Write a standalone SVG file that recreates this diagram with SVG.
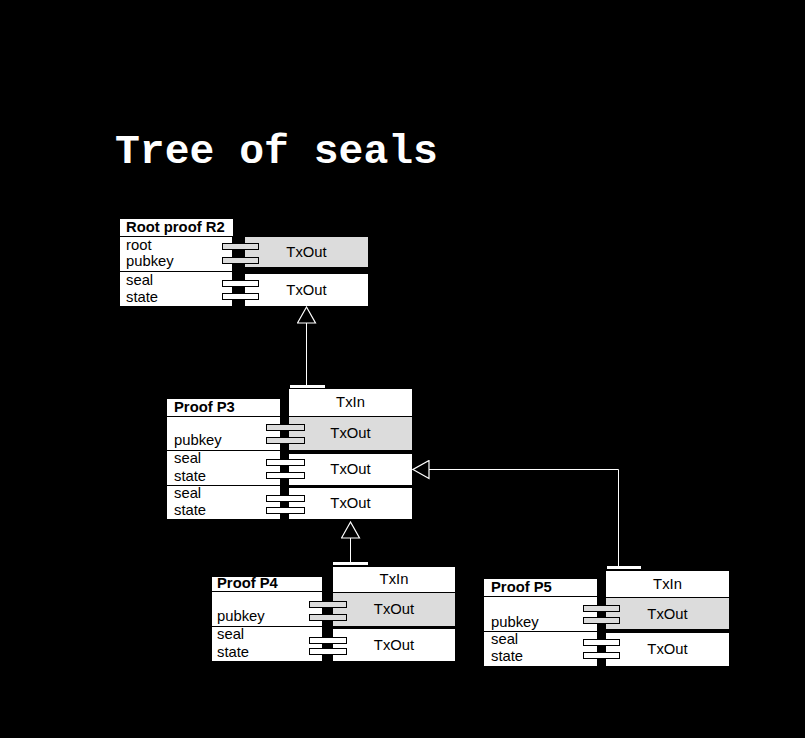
<svg xmlns="http://www.w3.org/2000/svg" width="805" height="738" viewBox="0 0 805 738">
<style>
.w{fill:#fff}
.g{fill:#dcdcdc}
.div{stroke:#000;stroke-width:1}
.pg{fill:#dcdcdc;stroke:#000;stroke-width:1}
.pw{fill:#fff;stroke:#000;stroke-width:1}
.t{font-family:"Liberation Sans",Arial,sans-serif;font-size:14.8px;fill:#000}
.b{font-weight:bold}
.c{text-anchor:middle}
.title{font-family:"Liberation Mono","DejaVu Sans Mono",monospace;font-weight:bold;font-size:41.4px;fill:#fff}
.conn{fill:none;stroke:#fff;stroke-width:1}
</style>
<defs>
<marker id="tri" markerUnits="userSpaceOnUse" viewBox="-1 -1 18 20" markerWidth="18" markerHeight="20" refX="16" refY="9" orient="auto">
<path d="M16,9 L0,0 L0,18 Z" fill="#000" stroke="#fff" stroke-width="1.2"/>
</marker>
</defs>
<rect x="0" y="0" width="805" height="738" fill="#000"/>
<text class="title" x="115" y="163">Tree of seals</text>

<g id="R2">
<rect class="w" x="120" y="219" width="113" height="17"/>
<text class="t b" x="126" y="232">Root proof R2</text>
<rect class="w" x="120" y="237" width="112" height="69"/>
<line class="div" x1="120" y1="271.5" x2="232" y2="271.5"/>
<text class="t" x="126" y="250">root</text>
<text class="t" x="126" y="266">pubkey</text>
<text class="t" x="126" y="285">seal</text>
<text class="t" x="126" y="302">state</text>
<rect class="g" x="245" y="237" width="123" height="30"/>
<rect class="w" x="245" y="274" width="123" height="32"/>
<text class="t c" x="306.5" y="257">TxOut</text>
<text class="t c" x="306.5" y="295">TxOut</text>
<rect class="pg" x="222.5" y="243.5" width="36" height="6"/>
<rect class="pg" x="222.5" y="257.5" width="36" height="6"/>
<rect class="pw" x="222.5" y="280.5" width="36" height="6"/>
<rect class="pw" x="222.5" y="293.5" width="36" height="6"/>
</g>

<g id="P3">
<rect class="w" x="167" y="399" width="113" height="17"/>
<text class="t b" x="174" y="412">Proof P3</text>
<rect class="w" x="167" y="417" width="113" height="102"/>
<line class="div" x1="167" y1="450.5" x2="280" y2="450.5"/>
<line class="div" x1="167" y1="485.5" x2="280" y2="485.5"/>
<text class="t" x="174" y="445">pubkey</text>
<text class="t" x="174" y="463">seal</text>
<text class="t" x="174" y="481">state</text>
<text class="t" x="174" y="498">seal</text>
<text class="t" x="174" y="515">state</text>
<rect class="w" x="290" y="385" width="35" height="3"/>
<rect class="w" x="289" y="389" width="123" height="27"/>
<rect class="g" x="289" y="417" width="123" height="33"/>
<rect class="w" x="289" y="454" width="123" height="31"/>
<rect class="w" x="289" y="488" width="123" height="31"/>
<text class="t c" x="350.5" y="407">TxIn</text>
<text class="t c" x="350.5" y="438">TxOut</text>
<text class="t c" x="350.5" y="474">TxOut</text>
<text class="t c" x="350.5" y="508">TxOut</text>
<rect class="pg" x="266.5" y="424.5" width="38" height="6"/>
<rect class="pg" x="266.5" y="437.5" width="38" height="6"/>
<rect class="pw" x="266.5" y="459.5" width="38" height="6"/>
<rect class="pw" x="266.5" y="472.5" width="38" height="6"/>
<rect class="pw" x="266.5" y="495.5" width="38" height="6"/>
<rect class="pw" x="266.5" y="507.5" width="38" height="6"/>
</g>

<g id="P4">
<rect class="w" x="212" y="577" width="110" height="14"/>
<text class="t b" x="217" y="588">Proof P4</text>
<rect class="w" x="212" y="592" width="110" height="69"/>
<line class="div" x1="212" y1="626.5" x2="322" y2="626.5"/>
<text class="t" x="217" y="621">pubkey</text>
<text class="t" x="217" y="639">seal</text>
<text class="t" x="217" y="657">state</text>
<rect class="w" x="333" y="562" width="35" height="3"/>
<rect class="w" x="333" y="567" width="122" height="25"/>
<rect class="g" x="333" y="593" width="122" height="33"/>
<rect class="w" x="333" y="629" width="122" height="32"/>
<text class="t c" x="394" y="584">TxIn</text>
<text class="t c" x="394" y="614">TxOut</text>
<text class="t c" x="394" y="650">TxOut</text>
<rect class="pg" x="309.5" y="601.5" width="37" height="6"/>
<rect class="pg" x="309.5" y="614.5" width="37" height="6"/>
<rect class="pw" x="309.5" y="637.5" width="37" height="6"/>
<rect class="pw" x="309.5" y="648.5" width="37" height="6"/>
</g>

<g id="P5">
<rect class="w" x="484" y="579" width="113" height="17"/>
<text class="t b" x="491" y="592">Proof P5</text>
<rect class="w" x="484" y="597" width="113" height="69"/>
<line class="div" x1="484" y1="631.5" x2="597" y2="631.5"/>
<text class="t" x="491" y="627">pubkey</text>
<text class="t" x="491" y="644">seal</text>
<text class="t" x="491" y="661">state</text>
<rect class="w" x="607" y="566" width="34" height="3"/>
<rect class="w" x="606" y="571" width="123" height="26"/>
<rect class="g" x="606" y="598" width="123" height="31"/>
<rect class="w" x="606" y="633" width="123" height="33"/>
<text class="t c" x="667.5" y="589">TxIn</text>
<text class="t c" x="667.5" y="619">TxOut</text>
<text class="t c" x="667.5" y="654">TxOut</text>
<rect class="pg" x="583.5" y="605.5" width="36" height="6"/>
<rect class="pg" x="583.5" y="617.5" width="36" height="6"/>
<rect class="pw" x="583.5" y="639.5" width="36" height="6"/>
<rect class="pw" x="583.5" y="652.5" width="36" height="6"/>
</g>

<g id="connectors">
<line class="conn" x1="306.5" y1="385" x2="306.5" y2="307" marker-end="url(#tri)"/>
<line class="conn" x1="350.5" y1="562" x2="350.5" y2="522" marker-end="url(#tri)"/>
<polyline class="conn" points="618.5,566 618.5,469.5 413,469.5" marker-end="url(#tri)"/>
</g>
</svg>
